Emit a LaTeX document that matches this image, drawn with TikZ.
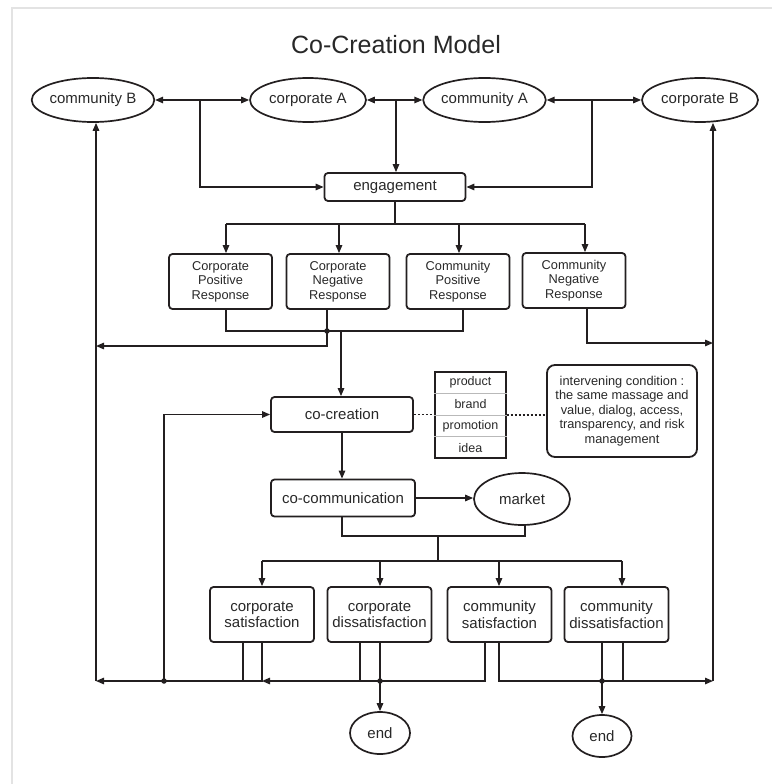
\documentclass[tikz,border=0pt]{standalone}
\usepackage{fontspec}
\setmainfont{Liberation Sans}
\usetikzlibrary{arrows.meta,shapes.geometric,calc}
\definecolor{lc}{RGB}{35,31,32}
\definecolor{tc}{RGB}{40,40,40}
\begin{document}
\begin{tikzpicture}[x=1pt,y=-1pt,
  every node/.style={font=\fontsize{15}{16.5}\selectfont, text=tc},
  box/.style={draw=lc, line width=1.8pt, rounded corners=3.5pt, align=center, inner sep=0pt},
  oval/.style={draw=lc, ellipse, line width=1.7pt, inner sep=0pt},
  ln/.style={draw=lc, line width=1.4pt},
  arr/.style={ln, -{Triangle[length=8pt,width=6.5pt]}},
  darr/.style={ln, {Triangle[length=8pt,width=6.5pt]}-{Triangle[length=8pt,width=6.5pt]}},
  dotnode/.style={circle, fill=lc, inner sep=0pt, minimum size=5.5pt},
  smalltext/.style={font=\fontsize{12.8}{14.6}\selectfont},
  celltext/.style={font=\fontsize{12.5}{14}\selectfont},
  dotline/.style={draw=lc, line width=1.5pt, dash pattern=on 2.5pt off 1.5pt},
  sbox/.style={box, minimum width=104pt, minimum height=55pt},
  rbox/.style={box, smalltext, minimum width=103pt, minimum height=55pt},
]
\useasboundingbox (0,0) rectangle (772,784);
\draw[gray!22, line width=1.2pt] (772,8) -- (12,8) -- (12,784);

% title
\node[font=\fontsize{25}{30}\selectfont] (title) at (396,45) {Co-Creation Model};

% top ellipses
\node[oval, minimum width=116pt, minimum height=44pt] (cB) at (93,100) {community B};
\node[oval, minimum width=116pt, minimum height=44pt] (cA) at (308,100) {corporate A};
\node[oval, minimum width=117pt, minimum height=44pt] (mA) at (484.5,100) {community A};
\node[oval, minimum width=116pt, minimum height=44pt] (cBr) at (700,100) {corporate B};

\draw[darr] (cB.east) -- (cA.west);
\draw[darr] (cA.east) -- (mA.west);
\draw[darr] (mA.east) -- (cBr.west);

% engagement
\node[box, minimum width=141pt, minimum height=28pt] (eng) at (395,187) {engagement};
\coordinate (t1) at (200,100);
\coordinate (t2) at (396,100);
\coordinate (t3) at (592,100);
\draw[arr] (t1) |- (eng.west);
\draw[arr] (t2) -- (t2 |- eng.north);
\draw[arr] (t3) |- (eng.east);

% responses
\node[rbox] (r1) at (220.5,281.5) {Corporate\\Positive\\Response};
\node[rbox] (r2) at (338,281.5) {Corporate\\Negative\\Response};
\node[rbox] (r3) at (458,281.5) {Community\\Positive\\Response};
\node[rbox] (r4) at (574,280.5) {Community\\Negative\\Response};

\coordinate (e1) at (395,224);
\coordinate (ba) at (226,224);
\coordinate (bb) at (339,224);
\coordinate (bc) at (459,224);
\coordinate (bd) at (585,224);
\draw[ln] (eng.south) -- (e1);
\draw[ln] (ba) -- (bd);
\draw[arr] (ba) -- (ba |- r1.north);
\draw[arr] (bb) -- (bb |- r2.north);
\draw[arr] (bc) -- (bc |- r3.north);
\draw[arr] (bd) -- (bd |- r4.north);

% long side lines
\coordinate (Lbot) at (96,681);
\coordinate (Rbot) at (713,681);
\coordinate (Lmid) at (96,346);
\coordinate (Rmid) at (713,343);
\draw[arr] (Lbot) -- (Lbot |- cB.south);
\draw[arr] (Rbot) -- (Rbot |- cBr.south);

% response junction
\coordinate (j1) at (226,331);
\coordinate (j2) at (327,331);
\coordinate (j3) at (463,331);
\coordinate (jm) at (341,331);
\coordinate (j2b) at (327,346);
\coordinate (k4) at (587,343);
\draw[ln] (j1 |- r1.south) -- (j1) -- (j3) -- (j3 |- r3.south);
\draw[arr] (j2 |- r2.south) -- (j2b) -- (Lmid);
\node[dotnode] (d1) at (j2) {};
\draw[arr] (k4 |- r4.south) -- (k4) -- (Rmid);

% co-creation
\node[box, minimum width=142pt, minimum height=35pt] (cocr) at (342,414.5) {co-creation};
\draw[arr] (jm) -- (jm |- cocr.north);
\coordinate (fb) at (164,681);
\draw[arr] (fb) |- (cocr.west);

% table
\node[draw=lc, line width=1.3pt, minimum width=71pt, minimum height=86pt, inner sep=0pt] (tbl) at (470.5,415) {};
\foreach \f in {0.25,0.5,0.75}{
  \draw[gray!55, line width=0.8pt] ($(tbl.north west)!\f!(tbl.south west)$) -- ($(tbl.north east)!\f!(tbl.south east)$);
}
\node[celltext] (c1) at ($(tbl.north)!0.125!(tbl.south)$) {product};
\node[celltext] (c2) at ($(tbl.north)!0.375!(tbl.south)$) {brand};
\node[celltext] (c3) at ($(tbl.north)!0.625!(tbl.south)$) {promotion};
\node[celltext] (c4) at ($(tbl.north)!0.875!(tbl.south)$) {idea};

% intervening condition
\node[box, smalltext, rounded corners=8pt, minimum width=150pt, minimum height=92pt] (inter) at (622,411)
  {intervening condition :\\the same massage and\\value, dialog, access,\\transparency, and risk\\management};
\draw[dotline] (cocr.east) -- (cocr.east -| tbl.west);
\draw[dotline] (tbl.east) -- (tbl.east -| inter.west);

% co-communication and market
\node[box, minimum width=144pt, minimum height=37pt] (cocm) at (343,498) {co-communication};
\node[oval, minimum width=96pt, minimum height=52pt] (mkt) at (522,499) {market};
\draw[arr] (cocr.south) -- (cocr.south |- cocm.north);
\draw[arr] (cocm.east) -- (cocm.east -| mkt.west);

\coordinate (m1) at (342,536);
\coordinate (m2) at (525,536);
\coordinate (m3) at (438,536);
\coordinate (m4) at (438,561);
\draw[ln] (m1 |- cocm.south) -- (m1) -- (m2) -- (m2 |- mkt.south);
\draw[ln] (m3) -- (m4);

% satisfaction boxes
\node[sbox] (s1) at (262,614.5) {corporate\\satisfaction};
\node[sbox] (s2) at (379.5,614.5) {corporate\\dissatisfaction};
\node[sbox] (s3) at (499.5,614.5) {community\\satisfaction};
\node[sbox] (s4) at (616.5,614.5) {community\\dissatisfaction};

\coordinate (sa) at (262,561);
\coordinate (sb) at (380,561);
\coordinate (sc) at (499,561);
\coordinate (sd) at (622,561);
\draw[ln] (sa) -- (sd);
\draw[arr] (sa) -- (sa |- s1.north);
\draw[arr] (sb) -- (sb |- s2.north);
\draw[arr] (sc) -- (sc |- s3.north);
\draw[arr] (sd) -- (sd |- s4.north);

% bottom lines
\coordinate (u1) at (243,681);
\coordinate (u2) at (262,681);
\coordinate (u3) at (360,681);
\coordinate (u4) at (380,681);
\coordinate (u5) at (485,681);
\coordinate (u6) at (499,681);
\coordinate (u7) at (602,681);
\coordinate (u8) at (623,681);
\draw[ln] (u1 |- s1.south) -- (u1);
\draw[arr] (u2 |- s1.south) -- (u2) -- (Lbot);
\draw[ln] (u3 |- s2.south) -- (u3);
\draw[ln] (u4 |- s2.south) -- (u4);
\draw[arr] (u5 |- s3.south) -- (u5) -- (u2);
\draw[arr] (u6 |- s3.south) -- (u6) -- (Rbot);
\draw[ln] (u7 |- s4.south) -- (u7);
\draw[ln] (u8 |- s4.south) -- (u8);
\node[dotnode] (d2) at (fb) {};
\node[dotnode] (d3) at (u4) {};
\node[dotnode] (d4) at (u7) {};

% ends
\node[oval, minimum width=60pt, minimum height=42pt] (end1) at (380,733) {end};
\node[oval, minimum width=59pt, minimum height=42pt] (end2) at (602,736) {end};
\draw[arr] (u4) -- (end1.north);
\draw[arr] (u7) -- (end2.north);
\end{tikzpicture}
\end{document}
